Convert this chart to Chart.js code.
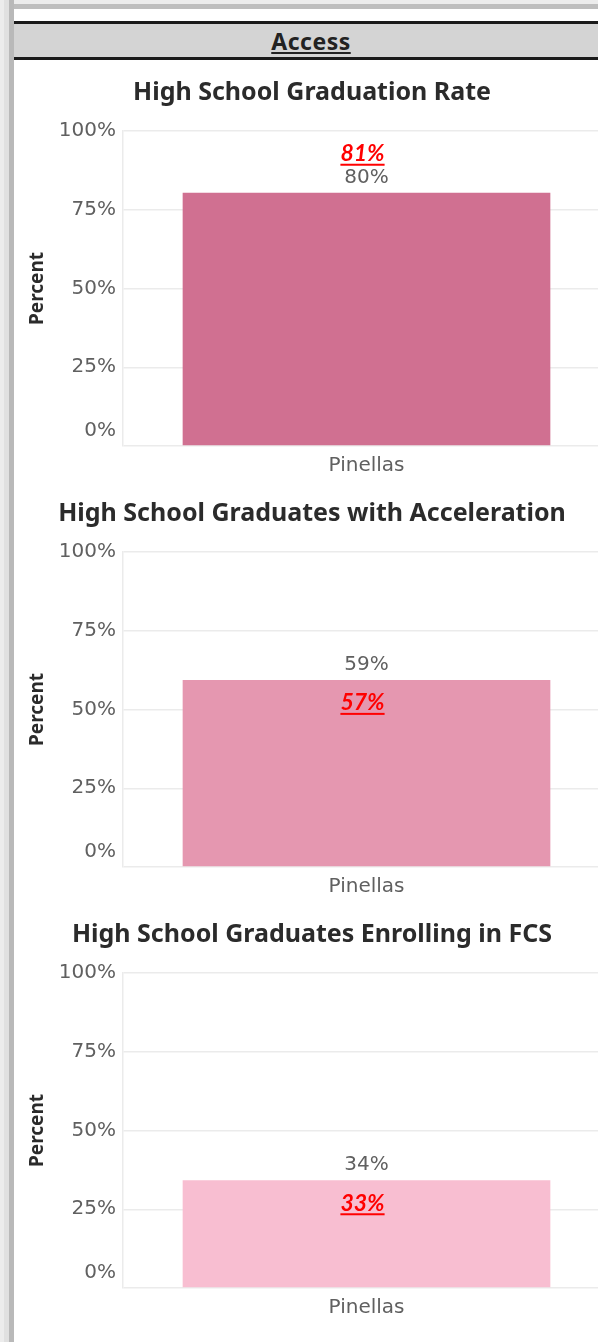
<!DOCTYPE html>
<html>
<head>
<meta charset="utf-8">
<script src="https://cdn.jsdelivr.net/npm/chart.js@4"></script>
<style>
  html, body { margin: 0; padding: 0; background: #fff; }
  body { width: 598px; height: 1342px; overflow: hidden; position: relative; }
  .edge-left { position: absolute; left: 0; top: 0; width: 14px; height: 1342px;
    background: linear-gradient(to right, #ececec 0, #ececec 4px, #e0e0e0 4px, #e0e0e0 9px, #b9b9b9 9px, #b9b9b9 14px); }
  .edge-top { position: absolute; left: 0; top: 0; width: 598px; height: 9px;
    background: linear-gradient(to bottom, #ececec 0, #ececec 4px, #bebebe 4px, #bebebe 9px); }
  .header { position: absolute; left: 14px; top: 21px; width: 600px; height: 33px;
    background: #d4d4d4; border-top: 3px solid #1a1a1a; border-bottom: 3px solid #1a1a1a;
    text-align: center; font: bold 23px "Noto Sans", sans-serif; letter-spacing: 0.5px;
    color: #222; line-height: 34px; }
  .header span { text-decoration: underline; position: relative; left: -3px; }
  .panel { position: absolute; left: 14px; width: 596px; height: 421px; }
</style>
</head>
<body>
<div class="edge-top"></div>
<div class="edge-left"></div>
<div class="header"><span>Access</span></div>
<div class="panel" style="top:60px"><canvas id="chart_grad" width="596" height="421"></canvas></div>
<div class="panel" style="top:481px"><canvas id="chart_accel" width="596" height="421"></canvas></div>
<div class="panel" style="top:902px"><canvas id="chart_fcs" width="596" height="421"></canvas></div>
<script>
const categories = ['Pinellas'];
const yTicks = [0, 25, 50, 75, 100];

const gradRate = [80.4];
const gradTarget = [81];
const accelRate = [59.4];
const accelTarget = [57];
const fcsRate = [34.2];
const fcsTarget = [33];

const titles = [
    'High School Graduation Rate',
    'High School Graduates with Acceleration',
    'High School Graduates Enrolling in FCS'
];

const labelFont = '20px "DejaVu Sans"';
const labelColor = '#606060';

// value label above the bar + red underlined target note
const barLabels = {
    id: 'barLabels',
    afterDatasetsDraw(chart, args, opts) {
        const ctx = chart.ctx;
        const meta = chart.getDatasetMeta(0);
        const values = chart.data.datasets[0].data;
        meta.data.forEach((bar, i) => {
            ctx.save();
            ctx.textAlign = 'center';
            ctx.textBaseline = 'middle';
            ctx.font = labelFont;
            ctx.fillStyle = labelColor;
            const valueY = bar.y - 15;
            ctx.fillText(Math.round(values[i]) + '%', bar.x, valueY);

            const t = opts.targets[i];
            const ty = t > values[i] ? valueY - 24 : bar.y + 23;
            const txt = t + '%';
            ctx.font = 'italic bold 23px Lato';
            ctx.fillStyle = '#ff0000';
            ctx.fillText(txt, bar.x - 4, ty);
            const w = ctx.measureText(txt).width;
            ctx.fillRect(bar.x - 4 - w / 2, ty + 10, w, 2);
            ctx.restore();
        });
    }
};

// Tableau lifts the 0% label above the baseline
const zeroLabel = {
    id: 'zeroLabel',
    afterDraw(chart) {
        const y = chart.scales.y;
        const ctx = chart.ctx;
        ctx.save();
        ctx.font = labelFont;
        ctx.fillStyle = labelColor;
        ctx.textAlign = 'right';
        ctx.textBaseline = 'middle';
        ctx.fillText('0%', y.right - 7, y.getPixelForValue(0) - 15);
        ctx.restore();
    }
};

function makeChart(id, title, values, targets, color) {
    const ctx = document.getElementById(id);
    if (!ctx) {
        return;
    }
    const config = {
        type: 'bar',
        data: {
            labels: categories,
            datasets: [{
                data: values,
                backgroundColor: color,
                barPercentage: 0.755,
                categoryPercentage: 1
            }]
        },
        options: {
            responsive: false,
            animation: false,
            layout: { padding: 0 },
            plugins: {
                legend: { display: false },
                tooltip: { enabled: false },
                title: {
                    display: true,
                    text: title,
                    color: '#2b2b2b',
                    font: { family: 'Noto Sans', weight: 'bold', size: 25 },
                    padding: { top: 18, bottom: 23 }
                },
                barLabels: { targets: targets }
            },
            scales: {
                x: {
                    afterFit: (scale) => {
                        scale.height = 35;
                    },
                    grid: { display: false, drawTicks: false },
                    border: { display: false },
                    ticks: {
                        color: labelColor,
                        padding: 8,
                        font: { family: 'DejaVu Sans', size: 20 }
                    }
                },
                y: {
                    min: 0,
                    max: 100,
                    afterBuildTicks: (scale) => {
                        scale.ticks = yTicks.map(v => ({ value: v }));
                    },
                    afterFit: (scale) => {
                        scale.width = 109;
                    },
                    grid: { color: '#ebebeb', lineWidth: 1.5, drawTicks: false },
                    border: { color: '#ebebeb', width: 1.5 },
                    ticks: {
                        color: labelColor,
                        padding: 7,
                        font: { family: 'DejaVu Sans', size: 20 },
                        callback: (v) => v === 0 ? '' : v + '%'
                    },
                    title: {
                        display: true,
                        text: 'Percent',
                        color: '#2b2b2b',
                        font: { family: 'Noto Sans', weight: 'bold', size: 19 },
                        padding: { top: 12, bottom: 0 }
                    }
                }
            }
        },
        plugins: [barLabels, zeroLabel]
    };
    new Chart(ctx, config);
}

document.addEventListener('DOMContentLoaded', function () {
    makeChart('chart_grad', titles[0], gradRate, gradTarget, '#d07091');
    makeChart('chart_accel', titles[1], accelRate, accelTarget, '#e597b0');
    makeChart('chart_fcs', titles[2], fcsRate, fcsTarget, '#f8bed1');
});
</script>
</body>
</html>
